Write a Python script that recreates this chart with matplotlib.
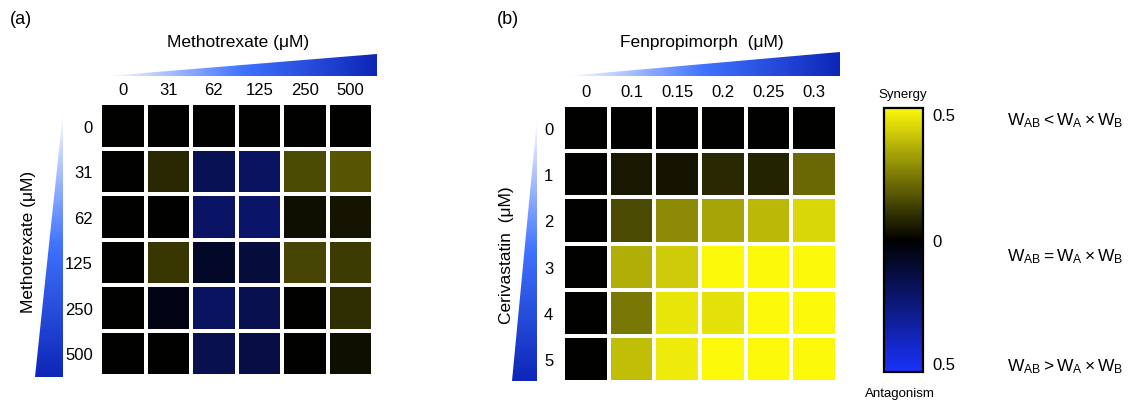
import numpy as np
import matplotlib
matplotlib.use("Agg")
import matplotlib.pyplot as plt
from matplotlib.colors import LinearSegmentedColormap
from matplotlib.patches import Polygon

plt.rcParams['font.family'] = ['Liberation Sans', 'DejaVu Sans']
plt.rcParams['mathtext.fontset'] = 'custom'
plt.rcParams['mathtext.rm'] = 'Liberation Sans'
plt.rcParams['mathtext.it'] = 'Liberation Sans'

# ---------------- data ----------------
mtx_cols = ["0", "31", "62", "125", "250", "500"]
mtx_rows = ["0", "31", "62", "125", "250", "500"]
mtx_vals = [
    [0.00, 0.00, 0.00, 0.00, 0.00, 0.00],
    [0.00, 0.08, -0.17, -0.19, 0.15, 0.17],
    [0.00, 0.00, -0.20, -0.21, 0.03, 0.04],
    [0.00, 0.11, -0.08, -0.12, 0.14, 0.12],
    [0.00, -0.04, -0.19, -0.16, 0.00, 0.09],
    [0.00, 0.00, -0.16, -0.14, 0.00, 0.03],
]

fen_cols = ["0", "0.1", "0.15", "0.2", "0.25", "0.3"]
cer_rows = ["0", "1", "2", "3", "4", "5"]
fen_vals = [
    [0.00, 0.00, 0.00, 0.00, 0.00, 0.00],
    [0.00, 0.05, 0.04, 0.08, 0.07, 0.21],
    [0.00, 0.15, 0.28, 0.33, 0.37, 0.43],
    [0.00, 0.35, 0.41, 0.50, 0.50, 0.50],
    [0.00, 0.24, 0.46, 0.45, 0.50, 0.50],
    [0.00, 0.38, 0.47, 0.50, 0.50, 0.50],
]

cbar_ticks = [-0.5, 0.0, 0.5]
cbar_ticklabels = ["0.5", "0", "0.5"]
relations = [r"$\mathrm{W_{AB} < W_A \times W_B}$",
             r"$\mathrm{W_{AB} = W_A \times W_B}$",
             r"$\mathrm{W_{AB} > W_A \times W_B}$"]

# ---------------- figure ----------------
W, H = 1128, 402
fig = plt.figure(figsize=(W / 100, H / 100), dpi=100)
fig.patch.set_facecolor("white")

cmap = LinearSegmentedColormap.from_list(
    "syn", [(25/255, 50/255, 250/255), (0, 0, 0), (252/255, 248/255, 10/255)])
wedge_cmap = LinearSegmentedColormap.from_list(
    "wedge", [(1, 1, 1), (0.25, 0.45, 1.0), (0.05, 0.15, 0.72)])

over = fig.add_axes([0, 0, 1, 1])
over.set_xlim(0, W)
over.set_ylim(H, 0)
over.axis("off")


def px_axes(x0, y0, x1, y1):
    return fig.add_axes([x0 / W, (H - y1) / H, (x1 - x0) / W, (y1 - y0) / H])


def wedge(pts, horizontal):
    poly = Polygon(pts, closed=True, facecolor="none", edgecolor="none")
    over.add_patch(poly)
    xs = [p[0] for p in pts]
    ys = [p[1] for p in pts]
    if horizontal:
        grad = np.linspace(0, 1, 256)[None, :]
    else:
        grad = np.linspace(0, 1, 256)[:, None]
    im = over.imshow(grad, cmap=wedge_cmap, aspect="auto",
                     extent=(min(xs), max(xs), max(ys), min(ys)),
                     origin="upper" if not horizontal else "lower",
                     interpolation="bilinear")
    im.set_clip_path(poly)


def heat(ax, vals, cols, rows, row_pad):
    data = np.array(vals)
    m = ax.pcolormesh(data, cmap=cmap, vmin=-0.5, vmax=0.5,
                      edgecolors="white", linewidth=1.6)
    ax.set_xlim(0, data.shape[1])
    ax.set_ylim(data.shape[0], 0)
    ax.xaxis.tick_top()
    ax.set_xticks(np.arange(len(cols)) + 0.5)
    ax.set_xticklabels(cols, fontsize=12)
    ax.set_yticks(np.arange(len(rows)) + 0.5)
    ax.set_yticklabels(rows, fontsize=12)
    ax.tick_params(length=0, pad=row_pad)
    ax.tick_params(axis="x", pad=4)
    for s in ax.spines.values():
        s.set_visible(False)
    return m


# panel (a)
wedge([(107, 77), (377, 77), (377, 55)], True)
wedge([(63, 113), (63, 378), (35, 378)], False)
axa = px_axes(100, 104, 373, 377)
mesh = heat(axa, mtx_vals, mtx_cols, mtx_rows, 5)
over.text(10, 20, "(a)", fontsize=13, va="center", ha="left")
over.text(238, 43, "Methotrexate (\u03bcM)", fontsize=12.5, ha="center", va="center")
over.text(29, 242, "Methotrexate (\u03bcM)", fontsize=12.5, ha="center", va="center",
          rotation=90)

# panel (b)
wedge([(567, 77), (840, 77), (840, 53)], True)
wedge([(537, 120), (537, 382), (512, 382)], False)
axb = px_axes(563, 106, 837, 383)
heat(axb, fen_vals, fen_cols, cer_rows, 7)
over.text(497, 20, "(b)", fontsize=13, va="center", ha="left")
over.text(702, 43, "Fenpropimorph  (\u03bcM)", fontsize=12.5, ha="center", va="center")
over.text(506, 255, "Cerivastatin  (\u03bcM)", fontsize=12.5, ha="center", va="center",
          rotation=90)

# colorbar
cax = px_axes(884, 109, 923, 373)
cb = fig.colorbar(mesh, cax=cax, ticks=cbar_ticks)
cb.set_ticklabels(cbar_ticklabels)
cb.outline.set_linewidth(1.6)
cb.outline.set_edgecolor("black")
cax.tick_params(length=0, pad=7, labelsize=12)
tl = cax.get_yticklabels()
tl[0].set_va("bottom")
tl[-1].set_va("top")
over.text(903, 95, "Synergy", fontsize=9.5, ha="center", va="center")
over.text(900, 394, "Antagonism", fontsize=9.5, ha="center", va="center")

for y, s in zip([121, 257, 367], relations):
    over.text(1007, y, s, fontsize=12.5, ha="left", va="center")

fig.savefig("out.png", dpi=100, facecolor="white")
